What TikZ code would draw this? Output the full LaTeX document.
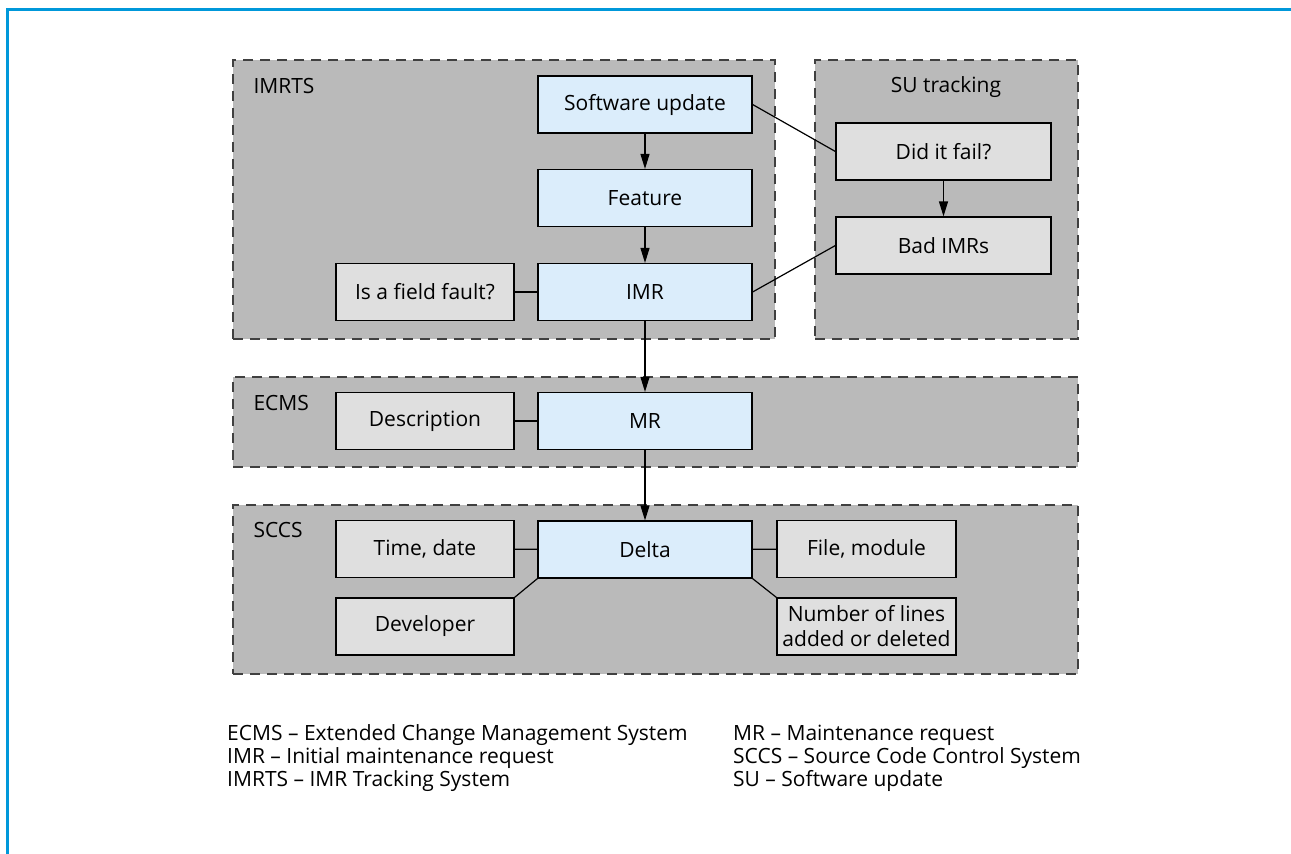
\documentclass[tikz,border=0pt]{standalone}
\usepackage{fontspec}
\setmainfont{Open Sans}
\usepackage{tikz}
\usetikzlibrary{arrows.meta}

\definecolor{frameblue}{RGB}{0,152,218}
\definecolor{grpgray}{RGB}{186,186,186}
\definecolor{dashgray}{RGB}{64,64,64}
\definecolor{boxblue}{RGB}{219,237,251}
\definecolor{boxgray}{RGB}{223,223,223}

\begin{document}
\begin{tikzpicture}[x=1pt,y=-1pt,font=\fontsize{21}{25}\selectfont,
grp/.style n args={2}{rectangle,draw=dashgray,fill=grpgray,line width=1.5pt,dash pattern=on 10pt off 7pt,minimum width=#1,minimum height=#2,inner sep=0pt},
box/.style n args={2}{rectangle,draw=black,fill=#1,line width=1.2pt,minimum width=#2,minimum height=57,inner sep=0pt,align=center},
lnk/.style={line width=1.2pt},
arr/.style={lnk,-{Triangle[length=15pt,width=9pt]}}]
\useasboundingbox (0,0) rectangle (1291,854);
\draw[frameblue,line width=3pt] (1291,9) -- (7,9) -- (7,854);
% groups
\node[grp={542}{279}] (imrts) at (504,199.5) {};
\node[grp={263}{279}] (sutrk) at (946.5,199.5) {};
\node[grp={845}{90}] (ecms) at (655.5,422) {};
\node[grp={845}{169}] (sccs) at (655.5,589.5) {};
\node[anchor=west] (imrtslbl) at (250,86) {IMRTS};
\node (sutrklbl) at (946,87) {SU tracking};
\node[anchor=west] (ecmslbl) at (250,403) {ECMS};
\node[anchor=west] (sccslbl) at (250,530) {SCCS};
% boxes
\node[box={boxblue}{214}] (swupd) at (645,104.5) {Software update};
\node[box={boxblue}{214}] (feature) at (645,198) {Feature};
\node[box={boxblue}{214}] (imr) at (645,292) {IMR};
\node[box={boxgray}{178}] (fault) at (425,292) {Is a field fault?};
\node[box={boxgray}{215}] (didfail) at (943.5,151.5) {Did it fail?};
\node[box={boxgray}{215}] (badimr) at (943.5,245.5) {Bad IMRs};
\node[box={boxblue}{214}] (mr) at (645,421) {MR};
\node[box={boxgray}{178}] (descr) at (425,421) {Description};
\node[box={boxblue}{214}] (delta) at (645,549.5) {Delta};
\node[box={boxgray}{178}] (timedate) at (425,549) {Time, date};
\node[box={boxgray}{179}] (filemod) at (866.5,549) {File, module};
\node[box={boxgray}{178}] (dev) at (425,626.5) {Developer};
\node[box={boxgray}{179}] (nlines) at (866.5,626.5) {Number of lines\\added or deleted};
% links
\draw[arr] (swupd) -- (feature);
\draw[arr] (feature) -- (imr);
\draw[arr] (imr) -- (mr);
\draw[arr] (mr) -- (delta);
\draw[arr] (didfail) -- (badimr);
\draw[lnk] (swupd.east) -- (didfail.west);
\draw[lnk] (imr.east) -- (badimr.west);
\draw[lnk] (fault) -- (imr);
\draw[lnk] (descr) -- (mr);
\draw[lnk] (timedate) -- (delta);
\draw[lnk] (delta) -- (filemod);
\draw[lnk] (delta.south west) -- (dev.north east);
\draw[lnk] (delta.south east) -- (nlines.north west);
% legend
\foreach \n/\y/\l/\r in %
{1/735/{ECMS – Extended Change Management System}/{MR – Maintenance request},
 2/758/{IMR – Initial maintenance request}/{SCCS – Source Code Control System},
 3/781/{IMRTS – IMR Tracking System}/{SU – Software update}} {
   \node[anchor=west,inner sep=0pt] (lgl\n) at (227,\y) {\l};
   \node[anchor=west,inner sep=0pt] (lgr\n) at (733,\y) {\r};
}
\end{tikzpicture}
\end{document}
